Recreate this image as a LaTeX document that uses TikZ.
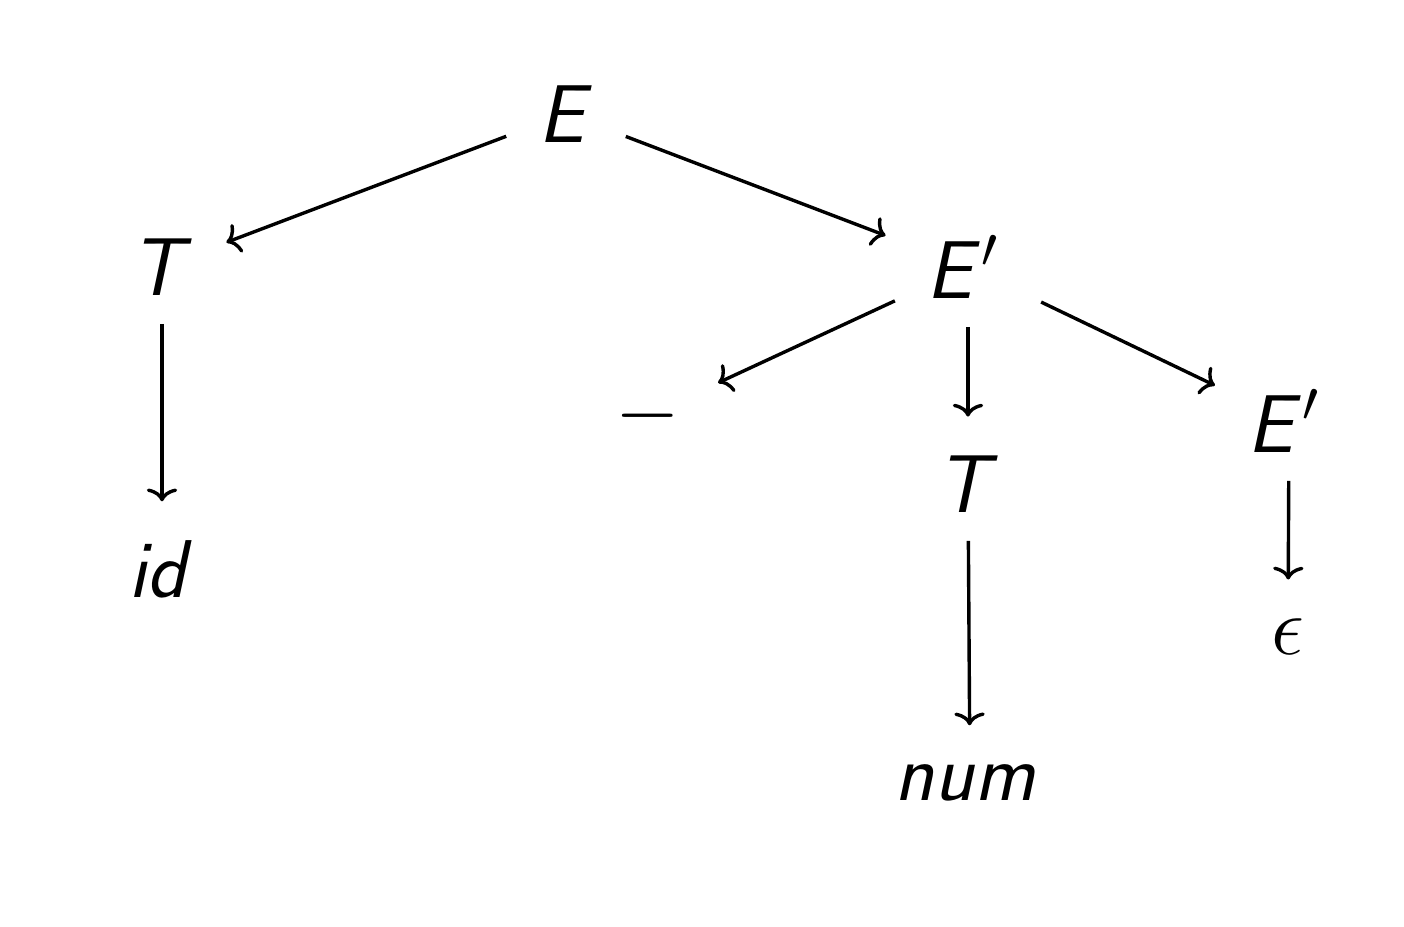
\documentclass[tikz,border=0pt]{standalone}
\usetikzlibrary{arrows.meta}
\newcommand\glsh[1]{\hspace*{-1.2pt}#1\hspace*{1.2pt}}
\tikzset{
  tn/.style={inner sep=7pt, anchor=base, font=\fontsize{20.5}{24}\selectfont\sffamily\itshape},
  wide/.style={inner xsep=9pt},
  ar/.style={line width=0.85pt, -{Computer Modern Rightarrow[length=3.2pt,width=7.6pt]}, shorten >=2.5pt}
}
\begin{document}
\begin{tikzpicture}[x=0.25pt,y=-0.25pt]
\useasboundingbox (0,0) rectangle (1404,926);
\node[tn,wide] (E) at (566,142) {\glsh{E}};
\node[tn] (T1) at (162,295) {\glsh{T}};
\node[tn] (id) at (162,597) {\glsh{id}};
\node[tn,wide] (E1) at (968,298) {\glsh{E\kern2.2pt$'$}};
\node[tn] (minus) at (648,436) {$-$};
\node[tn] (T2) at (968,512) {\glsh{T}};
\node[tn] (num) at (970,800) {\glsh{num}};
\node[tn] (E2) at (1289,452) {\glsh{E\kern2.2pt$'$}};
\node[tn] (eps) at (1288,654) {$\epsilon$};
\draw[ar] (E) -- (T1);
\draw[ar] (E) -- (E1);
\draw[ar] (T1) -- (id);
\draw[ar] (E1) -- (minus);
\draw[ar] (E1.south -| T2) -- (T2);
\draw[ar] (E1) -- (E2);
\draw[ar] (T2) -- (num);
\draw[ar] (E2) -- (eps);
\end{tikzpicture}
\end{document}
